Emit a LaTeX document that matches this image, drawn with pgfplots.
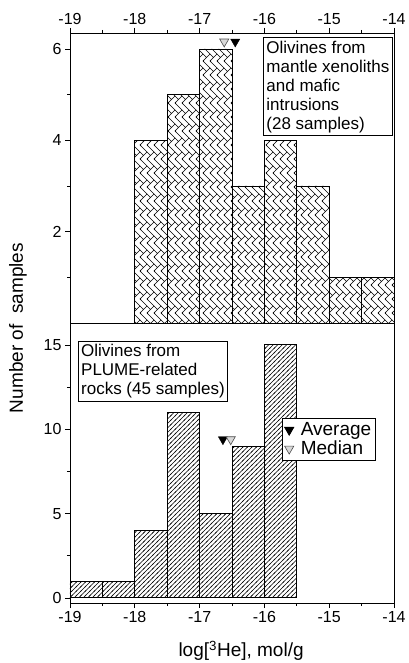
\documentclass[border=0pt]{standalone}
\usepackage{fontspec}
\setmainfont{Liberation Sans}
\usepackage{pgfplots}
\pgfplotsset{compat=1.18}
\usetikzlibrary{patterns}
\pgfdeclarepatternformonly{herring}{\pgfpoint{-1pt}{-1pt}}{\pgfpoint{8pt}{15pt}}{\pgfpoint{7pt}{14pt}}{%
  \pgfsetlinewidth{0.6pt}%
  \pgfpathmoveto{\pgfpoint{0pt}{0pt}}\pgfpathlineto{\pgfpoint{7pt}{7pt}}\pgfpathlineto{\pgfpoint{0pt}{14pt}}%
  \pgfpathmoveto{\pgfpoint{0pt}{7pt}}\pgfpathlineto{\pgfpoint{3.5pt}{3.5pt}}%
  \pgfpathmoveto{\pgfpoint{7pt}{0pt}}\pgfpathlineto{\pgfpoint{8pt}{1pt}}%
  \pgfpathmoveto{\pgfpoint{7pt}{14pt}}\pgfpathlineto{\pgfpoint{8pt}{13pt}}%
  \pgfusepath{stroke}}
\pgfdeclarepatternformonly{hatch}{\pgfpoint{-1pt}{-1pt}}{\pgfpoint{5pt}{5pt}}{\pgfpoint{4.5pt}{4.5pt}}{%
  \pgfsetlinewidth{0.55pt}%
  \pgfpathmoveto{\pgfpoint{-1pt}{-1pt}}\pgfpathlineto{\pgfpoint{5.5pt}{5.5pt}}%
  \pgfusepath{stroke}}
\pgfplotsset{
  common/.style={
    scale only axis, width=324pt,
    xmin=-19, xmax=-14,
    xtick={-19,-18,-17,-16,-15,-14},
    minor xtick={-18.5,-17.5,-16.5,-15.5,-14.5},
    tick align=outside,
    major tick length=5pt, minor tick length=3pt,
    ytick pos=left,
    tick label style={font=\fontsize{16}{16}\selectfont},
    /pgf/number format/assume math mode=true,
    axis line style={line width=0.8pt},
    every tick/.style={line width=0.8pt, black},
  }
}
\begin{document}
\begin{tikzpicture}
\useasboundingbox (-70pt,-60pt) rectangle (338pt,603pt);
% bottom panel
\begin{axis}[common,
  at={(0pt,0pt)}, anchor=south west, height=280pt,
  ymin=-0.3, ymax=16.3,
  ytick={0,5,10,15}, minor ytick={2.5,7.5,12.5},
  xtick pos=left, xticklabel pos=left,
  xlabel={log[\textsuperscript{3}He], mol/g},
  xlabel style={font=\fontsize{19}{19}\selectfont, at={(rel axis cs:0.528,0)}, anchor=north, yshift=-38pt, inner sep=0pt},
  legend style={at={(rel axis cs:0.655,0.66)}, anchor=north west, draw=black, line width=0.8pt,
    font=\fontsize{19}{19}\selectfont, row sep=0pt, inner sep=2pt,
    /tikz/every odd column/.append style={column sep=5pt}},
  legend cell align=left,
]
\addplot[ybar interval, draw=black, line width=0.9pt, pattern=hatch, forget plot]
  coordinates {(-19,1) (-18.5,1) (-18,4) (-17.5,11) (-17,5) (-16.5,9) (-16,15) (-15.5,15)};
\addplot[only marks, mark=triangle*, mark size=5.3pt, mark options={rotate=180, fill=black, draw=black}]
  coordinates {(-16.64,9.4)};
\addlegendentry{Average}
\addplot[only marks, mark=triangle*, mark size=5.3pt, mark options={rotate=180, fill=gray!30, draw=black!70, line width=0.6pt}]
  coordinates {(-16.52,9.4)};
\addlegendentry{Median}
\node[draw=black, line width=0.8pt, fill=white, align=left, anchor=north west, inner sep=3pt,
  font=\fontsize{17}{19}\selectfont] at (rel axis cs:0.024,0.935)
  {Olivines from\\PLUME-related\\rocks (45 samples)};
\end{axis}
% top panel
\begin{axis}[common,
  at={(0pt,280pt)}, anchor=south west, height=290pt,
  ymin=0, ymax=6.35,
  ytick={2,4,6}, minor ytick={1,3,5},
  xtick pos=right, xticklabel pos=right,
]
\addplot[ybar interval, draw=black, line width=0.9pt, pattern=herring]
  coordinates {(-18,4) (-17.5,5) (-17,6) (-16.5,3) (-16,4) (-15.5,3) (-15,1) (-14.5,1) (-14,1)};
\addplot[only marks, mark=triangle*, mark size=5.3pt, mark options={rotate=180, fill=black, draw=black}]
  coordinates {(-16.45,6.16)};
\addplot[only marks, mark=triangle*, mark size=5.3pt, mark options={rotate=180, fill=gray!30, draw=black!70, line width=0.6pt}]
  coordinates {(-16.62,6.16)};
\node[draw=black, line width=0.8pt, fill=white, align=left, anchor=north east, inner sep=3pt,
  font=\fontsize{17}{19}\selectfont] at (rel axis cs:0.996,0.985)
  {Olivines from\\mantle xenoliths\\and mafic\\intrusions\\(28 samples)};
\end{axis}
\node[rotate=90, font=\fontsize{19}{19}\selectfont] at (-52pt,275pt) {Number of\ \ samples};
\end{tikzpicture}
\end{document}
